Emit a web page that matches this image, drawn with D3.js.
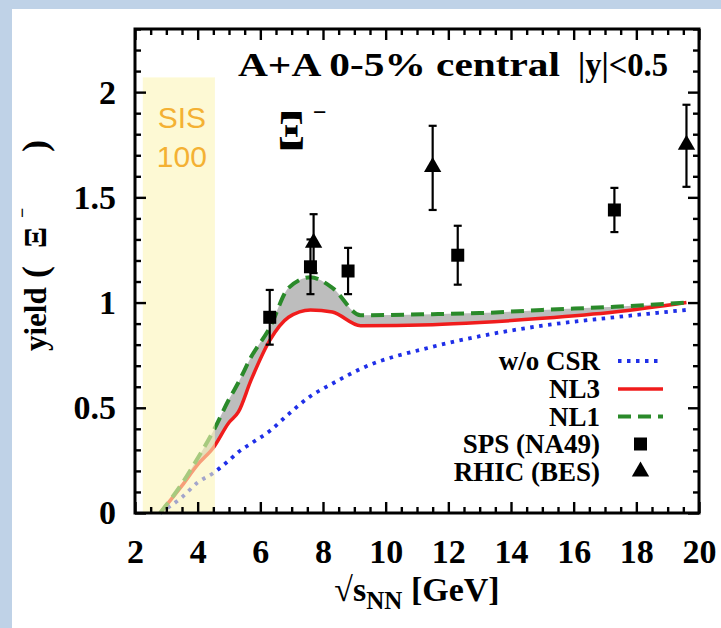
<!DOCTYPE html>
<html><head><meta charset="utf-8">
<script src="https://cdn.jsdelivr.net/npm/d3@7"></script>
<style>
html,body{margin:0;padding:0;background:#fff;}
svg{display:block;}
</style></head><body>
<svg id="chart" width="721" height="628"></svg>
<script>
// Collision energies (GeV) at which the transport curves are evaluated
const energyGrid = [2.8, 3.5, 4.0, 4.5, 5.0, 5.3, 5.7, 6.3, 6.9, 7.6, 8.3, 9.2, 11.5, 13.0, 15.0, 17.3, 19.6];
const yieldNL3   = [0, 0.13, 0.23, 0.31, 0.43, 0.48, 0.63, 0.82, 0.93, 0.965, 0.955, 0.89, 0.895, 0.905, 0.925, 0.955, 1.0];
const yieldNL1   = [0, 0.14, 0.26, 0.39, 0.54, 0.62, 0.74, 0.88, 1.07, 1.12, 1.07, 0.94, 0.945, 0.95, 0.965, 0.98, 1.0];
const yieldNoCSR = [0, 0.075, 0.145, 0.19, 0.25, 0.29, 0.33, 0.39, 0.47, 0.555, 0.615, 0.685, 0.79, 0.84, 0.89, 0.93, 0.965];

// Measured Xi- yields
const spsEnergy  = [6.3, 7.6, 8.8, 12.3, 17.3];
const spsYield   = [0.93, 1.17, 1.15, 1.225, 1.44];
const spsError   = [0.13, 0.13, 0.11, 0.14, 0.105];
const rhicEnergy = [7.7, 11.5, 19.6];
const rhicYield  = [1.28, 1.64, 1.745];
const rhicError  = [0.14, 0.20, 0.195];

// SIS100 energy window
const sisRange = [2.25, 4.55];
const sisTop = 2.07;

const xTicks = [2, 4, 6, 8, 10, 12, 14, 16, 18, 20];
const yTicks = [0, 0.5, 1, 1.5, 2];
const yTickLabels = ["0", "0.5", "1", "1.5", "2"];

const legendLines = ["w/o CSR", "NL3", "NL1"];
const legendMarkers = ["SPS (NA49)", "RHIC (BES)"];

const serif = "'Liberation Serif','Times New Roman',serif";
const sans = "'Liberation Sans',Arial,sans-serif";

const svg = d3.select("#chart");
const W = 721, H = 628;

// page background with the blue margin
svg.append("rect").attr("width", W).attr("height", H).attr("fill", "#bfd2e7");
svg.append("rect").attr("x", 12).attr("y", 9).attr("width", W - 12).attr("height", H - 9).attr("fill", "#fff");

const x = d3.scaleLinear().domain([2, 20]).range([135, 699]);
const y = d3.scaleLinear().domain([0, 2.3]).range([513, 29]);

const nl3 = energyGrid.map((e, i) => [e, yieldNL3[i]]);
const nl1 = energyGrid.map((e, i) => [e, yieldNL1[i]]);
const noCsr = energyGrid.map((e, i) => [e, yieldNoCSR[i]]);

const line = d3.line().x(d => x(d[0])).y(d => y(d[1])).curve(d3.curveMonotoneX);
const area = d3.area().x(d => x(d[0])).y0(d => y(d[1])).y1(d => y(d[2])).curve(d3.curveMonotoneX);

const plot = svg.append("g");

// band between the two parameter sets
plot.append("path")
  .datum(energyGrid.map((e, i) => [e, yieldNL3[i], yieldNL1[i]]))
  .attr("d", area).attr("fill", "#bdbdbd");

plot.append("path").datum(noCsr).attr("d", line)
  .attr("fill", "none").attr("stroke", "#1f2fe8").attr("stroke-width", 3.8)
  .attr("stroke-dasharray", "3.5 5.5");
plot.append("path").datum(nl3).attr("d", line)
  .attr("fill", "none").attr("stroke", "#f01c1c").attr("stroke-width", 3.5);
plot.append("path").datum(nl1).attr("d", line)
  .attr("fill", "none").attr("stroke", "#2a8a2a").attr("stroke-width", 4)
  .attr("stroke-dasharray", "13 7");

// SIS100 window
plot.append("rect")
  .attr("x", x(sisRange[0])).attr("width", x(sisRange[1]) - x(sisRange[0]))
  .attr("y", y(sisTop)).attr("height", y(0) - y(sisTop))
  .attr("fill", "#fcf5b7").attr("fill-opacity", 0.6);
const sisX = (x(sisRange[0]) + x(sisRange[1])) / 2 + 3;
plot.append("text").attr("x", sisX).attr("y", 128).attr("text-anchor", "middle")
  .attr("font-family", sans).attr("font-size", 30).attr("fill", "#f4b133").text("SIS");
plot.append("text").attr("x", sisX).attr("y", 167).attr("text-anchor", "middle")
  .attr("font-family", sans).attr("font-size", 30).attr("fill", "#f4b133").text("100");

// error bars
function errorBars(xs, ys, es) {
  const g = plot.append("g").attr("stroke", "#000").attr("stroke-width", 2.2);
  xs.forEach((e, i) => {
    const cx = x(e);
    g.append("line").attr("x1", cx).attr("x2", cx).attr("y1", y(ys[i] - es[i])).attr("y2", y(ys[i] + es[i]));
    g.append("line").attr("x1", cx - 4).attr("x2", cx + 4).attr("y1", y(ys[i] - es[i])).attr("y2", y(ys[i] - es[i]));
    g.append("line").attr("x1", cx - 4).attr("x2", cx + 4).attr("y1", y(ys[i] + es[i])).attr("y2", y(ys[i] + es[i]));
  });
}
errorBars(spsEnergy, spsYield, spsError);
errorBars(rhicEnergy, rhicYield, rhicError);

const square = d3.symbol().type(d3.symbolSquare).size(169);
const tri = d3.symbol().type(d3.symbolTriangle).size(130);

plot.selectAll(".sps").data(spsEnergy).enter().append("path")
  .attr("d", square).attr("fill", "#000")
  .attr("transform", (e, i) => `translate(${x(e)},${y(spsYield[i])})`);
plot.selectAll(".rhic").data(rhicEnergy).enter().append("path")
  .attr("d", tri).attr("fill", "#000")
  .attr("transform", (e, i) => `translate(${x(e)},${y(rhicYield[i]) - 1})`);

// axes: inward ticks on all four sides
function styleAxis(g) {
  g.select(".domain").remove();
  g.selectAll(".tick line").attr("stroke", "#000").attr("stroke-width", 2.4);
  g.selectAll(".tick text").attr("font-family", serif).attr("font-weight", "bold")
    .attr("font-size", 34).attr("fill", "#000");
}
const xMinor = d3.range(2, 20.01, 0.5).filter(v => !xTicks.includes(v));
const yMinor = d3.range(0, 2.301, 0.1).map(v => +v.toFixed(2)).filter(v => !yTicks.includes(v));

svg.append("g").attr("transform", "translate(0,513)")
  .call(d3.axisBottom(x).tickValues(xTicks).tickFormat(d3.format("d")).tickSize(-11).tickPadding(26)).call(styleAxis);
svg.append("g").attr("transform", "translate(0,513)")
  .call(d3.axisBottom(x).tickValues(xMinor).tickFormat("").tickSize(-6)).call(styleAxis);
svg.append("g").attr("transform", "translate(0,29)")
  .call(d3.axisTop(x).tickValues(xTicks).tickFormat("").tickSize(-11)).call(styleAxis);
svg.append("g").attr("transform", "translate(0,29)")
  .call(d3.axisTop(x).tickValues(xMinor).tickFormat("").tickSize(-6)).call(styleAxis);
svg.append("g").attr("transform", "translate(135,0)")
  .call(d3.axisLeft(y).tickValues(yTicks).tickFormat((d, i) => yTickLabels[i]).tickSize(-11).tickPadding(19)).call(styleAxis);
svg.append("g").attr("transform", "translate(135,0)")
  .call(d3.axisLeft(y).tickValues(yMinor).tickFormat("").tickSize(-6)).call(styleAxis);
svg.append("g").attr("transform", "translate(699,0)")
  .call(d3.axisRight(y).tickValues(yTicks).tickFormat("").tickSize(-11)).call(styleAxis);
svg.append("g").attr("transform", "translate(699,0)")
  .call(d3.axisRight(y).tickValues(yMinor).tickFormat("").tickSize(-6)).call(styleAxis);

// frame
svg.append("rect").attr("x", 135).attr("y", 29).attr("width", 564).attr("height", 484)
  .attr("fill", "none").attr("stroke", "#000").attr("stroke-width", 3);

// header
const txt = (xp, yp, s, size, anchor) => svg.append("text").attr("x", xp).attr("y", yp)
  .attr("font-family", serif).attr("font-weight", "bold").attr("font-size", size)
  .attr("text-anchor", anchor || "start").attr("fill", "#000").text(s);
txt(238, 76, "A+A 0-5% central", 33).attr("textLength", 322).attr("lengthAdjust", "spacingAndGlyphs");
txt(578, 76, "|y|<0.5", 33).attr("textLength", 90).attr("lengthAdjust", "spacingAndGlyphs");

// particle label
svg.append("text").attr("transform", "translate(278,150) scale(0.9,1.3)")
  .attr("font-family", serif).attr("font-weight", "bold").attr("font-size", 44).text("Ξ");
txt(313, 120, "−", 24);

// axis titles
const xt = svg.append("text").attr("x", 417).attr("y", 601).attr("text-anchor", "middle")
  .attr("font-family", serif).attr("font-weight", "bold").attr("font-size", 34);
xt.append("tspan").attr("font-weight", "normal").text("√");
xt.append("tspan").text("s");
xt.append("tspan").attr("font-size", 25).attr("dy", 8).text("NN");
xt.append("tspan").attr("dy", -8).text(" [GeV]");

const rot = (yp, xb, s, size) => svg.append("text")
  .attr("transform", `translate(${xb},${yp}) rotate(-90)`)
  .attr("font-family", serif).attr("font-weight", "bold").attr("font-size", size).text(s);
rot(351, 46, "yield", 31);
rot(278, 47, "(", 36);
rot(248, 46, "Ξ", 31);
rot(218, 28, "−", 18);
rot(152, 47, ")", 36);

// legend
const legX = 600, legS0 = 618, legS1 = 663;
const legY = [370, 398, 425.5, 453, 480.5];
const legStyles = [
  {stroke: "#1f2fe8", width: 3.8, dash: "3.5 5.5"},
  {stroke: "#f01c1c", width: 3.5, dash: null},
  {stroke: "#2a8a2a", width: 4, dash: "13 7"}
];
legendLines.forEach((name, i) => {
  txt(legX, legY[i], name, 27, "end");
  svg.append("line").attr("x1", legS0).attr("x2", legS1).attr("y1", legY[i] - 9).attr("y2", legY[i] - 9)
    .attr("stroke", legStyles[i].stroke).attr("stroke-width", legStyles[i].width)
    .attr("stroke-dasharray", legStyles[i].dash);
});
legendMarkers.forEach((name, i) => {
  txt(legX, legY[3 + i], name, 27, "end");
  svg.append("path").attr("d", i === 0 ? square : tri).attr("fill", "#000")
    .attr("transform", `translate(${(legS0 + legS1) / 2},${legY[3 + i] - 9})`);
});
</script>
</body></html>
